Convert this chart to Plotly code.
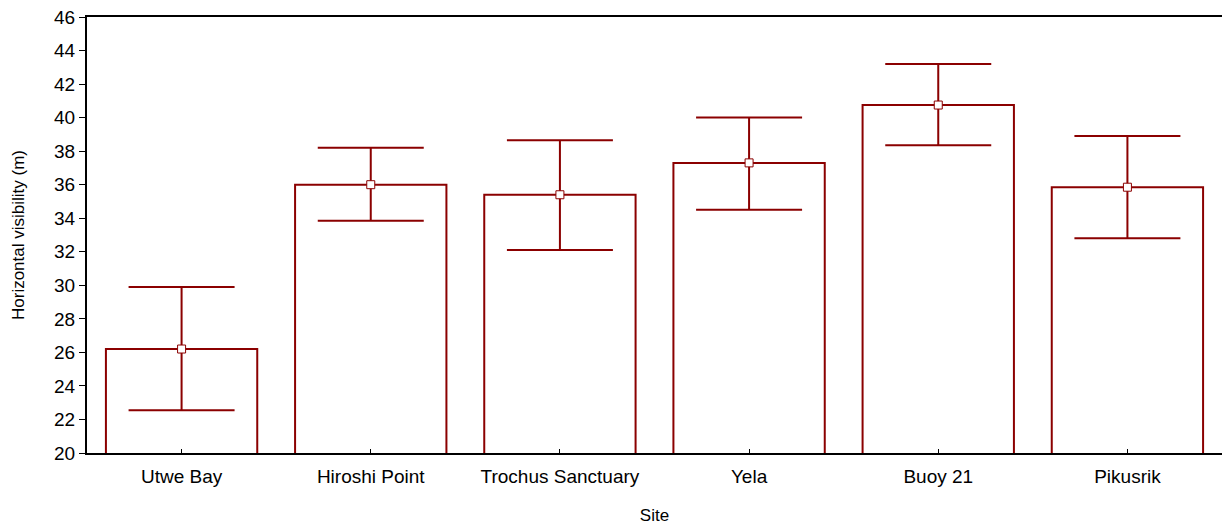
import plotly.graph_objects as go

sites = ["Utwe Bay", "Hiroshi Point", "Trochus Sanctuary", "Yela", "Buoy 21", "Pikusrik"]
means = [26.2, 36.0, 35.4, 37.3, 40.75, 35.85]
upper = [29.9, 38.2, 38.65, 40.0, 43.2, 38.9]
lower = [22.55, 33.85, 32.1, 34.5, 38.35, 32.8]

y_ticks = list(range(20, 47, 2))

err_plus = [u - m for u, m in zip(upper, means)]
err_minus = [m - l for m, l in zip(means, lower)]

red = "#8B0000"
font = "Liberation Sans, Arial, sans-serif"

fig = go.Figure()
fig.add_trace(go.Bar(
    x=sites, y=means,
    marker=dict(color="white", line=dict(color=red, width=2)),
    error_y=dict(type="data", array=err_plus, arrayminus=err_minus,
                 color=red, thickness=2, width=53),
    showlegend=False, hoverinfo="skip",
))
fig.add_trace(go.Scatter(
    x=sites, y=means, mode="markers",
    marker=dict(symbol="square", size=8, color="white",
                line=dict(color=red, width=1)),
    showlegend=False,
))

fig.update_layout(
    width=1223, height=525,
    margin=dict(l=87, r=1, t=17, b=72),
    paper_bgcolor="white", plot_bgcolor="white",
    bargap=0.2,
    font=dict(family=font, size=19, color="black"),
    xaxis=dict(
        title=dict(text="Site", font=dict(size=17), standoff=25),
        showline=True, linecolor="black", linewidth=2, mirror=True,
        ticks="inside", ticklen=4, tickcolor="black",
        ticklabelstandoff=5,
        showgrid=False, zeroline=False,
        tickfont=dict(size=19),
    ),
    yaxis=dict(
        title=dict(text="Horizontal visibility (m)", font=dict(size=17), standoff=25),
        range=[20, 46], tickvals=y_ticks,
        showline=True, linecolor="black", linewidth=2,
        ticks="outside", ticklen=6, tickcolor="black",
        showgrid=False, zeroline=False,
        tickfont=dict(size=19),
    ),
)

fig.write_html("out.html", config={"displayModeBar": False},
               post_script="document.body.style.margin='0';")
